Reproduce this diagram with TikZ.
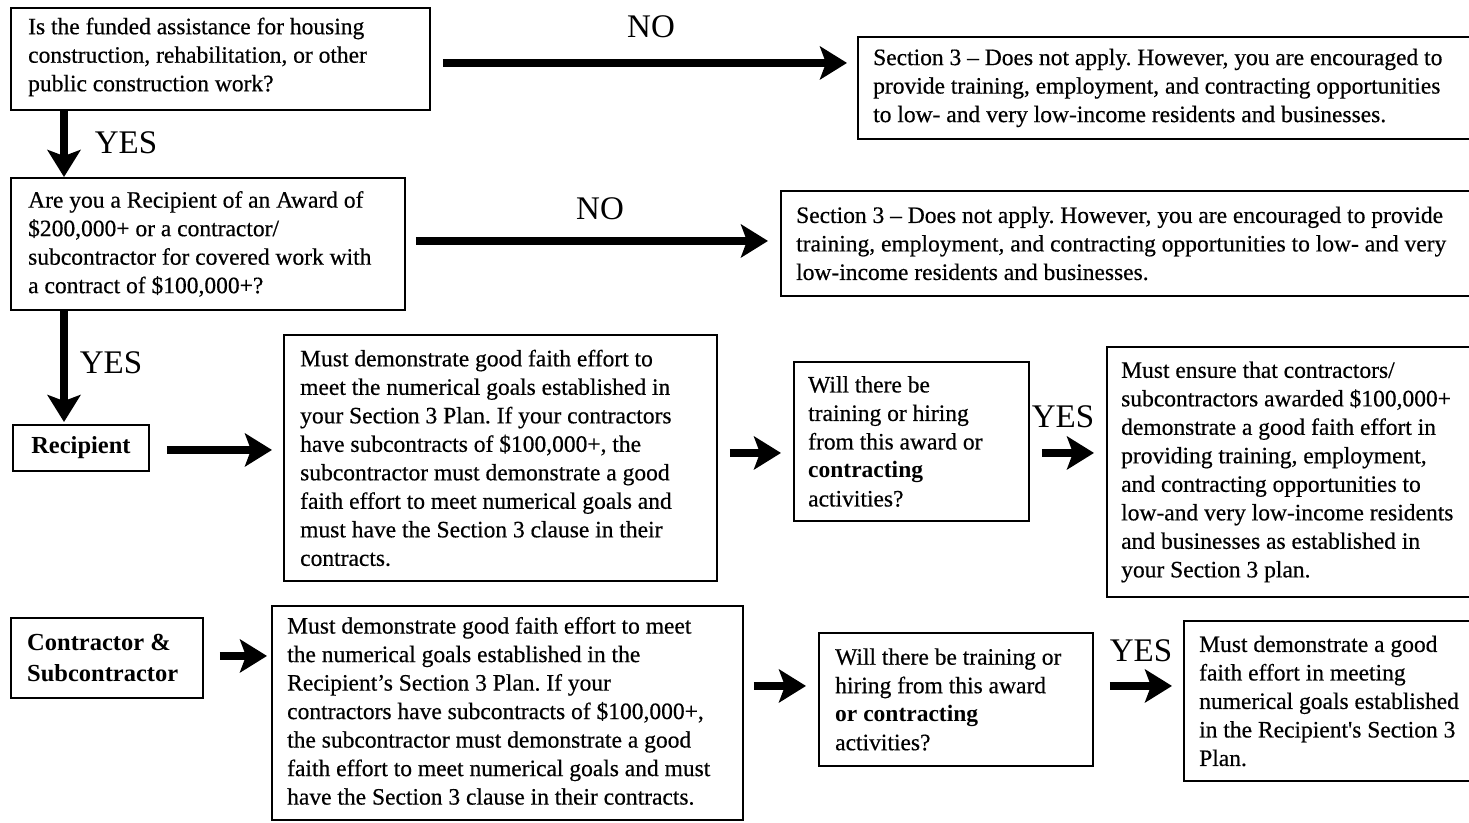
\documentclass[tikz,border=0pt]{standalone}
\usepackage{fontspec}
\setmainfont{Liberation Serif}
\newfontfamily\bodyfam{Liberation Serif}[FakeBold=0.5]
\usetikzlibrary{arrows.meta}
\newcommand{\bodyfs}{\bodyfam\fontsize{23.5}{28.5}\selectfont\frenchspacing}
\newcommand{\boldfs}{\fontsize{24.5}{30.5}\selectfont\bfseries}
\newcommand{\labfs}{\fontsize{33}{33}\selectfont}
\begin{document}
\begin{tikzpicture}[x=1pt,y=-1pt,
  boxshape/.style={draw=black, line width=1.9pt, fill=white, inner sep=0pt, anchor=north west},
  txt/.style={inner sep=0pt, align=left, font=\bodyfs, anchor=west},
  btxt/.style={inner sep=0pt, align=left, font=\boldfs, anchor=west},
  lab/.style={inner sep=0pt, font=\labfs},
  arr/.style={line width=8pt, -{Stealth[length=27pt,width=33pt,inset=6pt]}}]
\useasboundingbox (0,0) rectangle (1469,822);
\fill[white] (0,0) rectangle (1469,822);

% boxes
\node[boxshape, minimum width=419pt, minimum height=102pt] (qa) at (10,7) {};
\node[boxshape, minimum width=394pt, minimum height=132pt] (qb) at (10,177) {};
\node[boxshape, minimum width=623pt, minimum height=102pt] (na) at (857,36) {};
\node[boxshape, minimum width=700pt, minimum height=105pt] (nb) at (780,190) {};
\node[boxshape, minimum width=136pt, minimum height=46pt] (rec) at (12,424) {};
\node[boxshape, minimum width=433pt, minimum height=246pt] (rc) at (283,334) {};
\node[boxshape, minimum width=235pt, minimum height=159pt] (rd) at (793,361) {};
\node[boxshape, minimum width=374pt, minimum height=250pt] (re) at (1106,346) {};
\node[boxshape, minimum width=192pt, minimum height=80pt] (con) at (10,617) {};
\node[boxshape, minimum width=471pt, minimum height=214pt] (cf) at (271,605) {};
\node[boxshape, minimum width=274pt, minimum height=133pt] (cg) at (818,632) {};
\node[boxshape, minimum width=297pt, minimum height=160pt] (ch) at (1183,620) {};

% texts
\node[txt] (qat) at ([xshift=18pt,yshift=2pt]qa.west) {Is the funded assistance for housing\\construction, rehabilitation, or other\\public construction work?};
\node[txt] (qbt) at ([xshift=18pt]qb.west) {Are you a Recipient of an Award of\\\$200,000+ or a contractor/\\subcontractor for covered work with\\a contract of \$100,000+?};
\node[txt] (nat) at ([xshift=16pt]na.west) {Section 3 – Does not apply. However, you are encouraged to\\provide training, employment, and contracting opportunities\\to low- and very low-income residents and businesses.};
\node[txt] (nbt) at ([xshift=16pt]nb.west) {Section 3 – Does not apply. However, you are encouraged to provide\\training, employment, and contracting opportunities to low- and very\\low-income residents and businesses.};
\node[btxt, anchor=center] (rect) at (rec.center) {Recipient};
\node[txt] (rct) at ([xshift=17pt]rc.west) {Must demonstrate good faith effort to\\meet the numerical goals established in\\your Section 3 Plan. If your contractors\\have subcontracts of \$100,000+, the\\subcontractor must demonstrate a good\\faith effort to meet numerical goals and\\must have the Section 3 clause in their\\contracts.};
\node[txt] (rdt) at ([xshift=15pt]rd.west) {Will there be\\training or hiring\\from this award or\\\textbf{\rmfamily contracting}\\activities?};
\node[txt] (ret) at ([xshift=15pt]re.west) {Must ensure that contractors/\\subcontractors awarded \$100,000+\\demonstrate a good faith effort in\\providing training, employment,\\and contracting opportunities to\\low-and very low-income residents\\and businesses as established in\\your Section 3 plan.};
\node[btxt] (cont) at ([xshift=17pt]con.west) {Contractor \&\\Subcontractor};
\node[txt] (cft) at ([xshift=16pt,yshift=2pt]cf.west) {Must demonstrate good faith effort to meet\\the numerical goals established in the\\Recipient’s Section 3 Plan. If your\\contractors have subcontracts of \$100,000+,\\the subcontractor must demonstrate a good\\faith effort to meet numerical goals and must\\have the Section 3 clause in their contracts.};
\node[txt] (cgt) at ([xshift=17pt]cg.west) {Will there be training or\\hiring from this award\\{\rmfamily\bfseries or contracting}\\activities?};
\node[txt] (cht) at ([xshift=16pt]ch.west) {Must demonstrate a good\\faith effort in meeting\\numerical goals established\\in the Recipient's Section 3\\Plan.};

% labels
\node[lab] (no1) at (651,27) {NO};
\node[lab] (no2) at (600,209) {NO};
\node[lab] (yes1) at (126,143) {YES};
\node[lab] (yes2) at (111,363) {YES};
\node[lab] (yes3) at (1063,417) {YES};
\node[lab] (yes4) at (1141,651) {YES};

% connectors
\draw[arr] ([shift={(12,4)}]qa.east) -- ([shift={(-10,-25)}]na.west);
\draw[arr] ([shift={(10,-3)}]qb.east) -- ([shift={(-12,-2.5)}]nb.west);
\draw[arr] ([shift={(54,0)}]qa.south west) -- ([shift={(54,0)}]qb.north west);
\draw[arr] ([shift={(54,0)}]qb.south west) -- ([shift={(52,-2)}]rec.north west);
\draw[arr] ([shift={(17,2)}]rec.east) -- ([shift={(-11,-8)}]rc.west);
\draw[arr] ([shift={(12,-5)}]rc.east) -- ([shift={(-12,11.5)}]rd.west);
\draw[arr] ([shift={(12,11.5)}]rd.east) -- ([shift={(-12,-19)}]re.west);
\draw[arr] ([shift={(16,-2)}]con.east) -- ([shift={(-4,-57)}]cf.west);
\draw[arr] ([shift={(10,-27)}]cf.east) -- ([shift={(-12,-13.5)}]cg.west);
\draw[arr] ([shift={(16,-13.5)}]cg.east) -- ([shift={(-11,-15)}]ch.west);
\end{tikzpicture}
\end{document}
